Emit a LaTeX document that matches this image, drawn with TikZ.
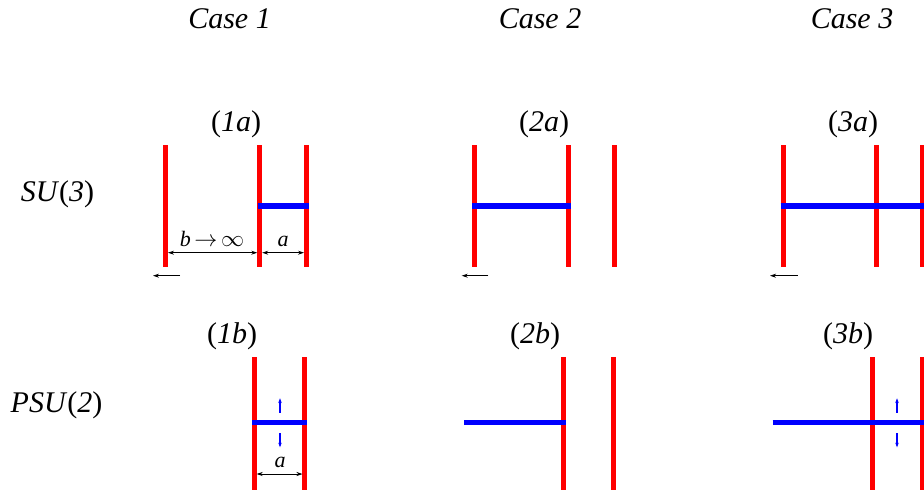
\documentclass[tikz,border=0pt]{standalone}
\usepackage{fontspec}
\setmainfont{Liberation Serif}
\usetikzlibrary{arrows.meta}
\newcommand\bigfnt{\fontsize{22.5}{27}\selectfont}
\newcommand\smallfnt{\fontsize{16.5}{20}\selectfont}
\tikzset{
  brane/.style={draw=red, line width=3.75pt},
  wire/.style={draw=blue, line width=4pt},
  dimarr/.style={draw=black, line width=0.6pt, {Stealth[length=4.5pt,width=3pt]}-{Stealth[length=4.5pt,width=3pt]}},
  movearr/.style={draw=black, line width=0.6pt, -{Stealth[length=4.5pt,width=3pt]}},
  bluearr/.style={draw=blue, line width=0.9pt, -{Stealth[length=3.5pt,width=2.6pt]}},
  title/.style={font=\bigfnt, anchor=base, inner sep=0pt},
  dimlbl/.style={font=\smallfnt, anchor=base, inner sep=0pt}
}
\begin{document}
\begin{tikzpicture}[x=0.75pt, y=-0.75pt]
\useasboundingbox (0,0) rectangle (924,490);
% titles
\node[title] (case1) at (229.5,28.3) {\textit{Case 1}};
\node[title] (case2) at (540,28.3) {\textit{Case 2}};
\node[title] (case3) at (852,28.3) {\textit{Case 3}};
\node[title] (su3) at (57.5,201.7) {\textit{SU}(\textit{3})};
\node[title] (psu2) at (56.5,412.7) {\textit{PSU}(\textit{2})};
\node[title] (l1a) at (236,131.7) {(\textit{1a})};
\node[title] (l2a) at (544,131.7) {(\textit{2a})};
\node[title] (l3a) at (853,131.7) {(\textit{3a})};
\node[title] (l1b) at (232,343) {(\textit{1b})};
\node[title] (l2b) at (535,343) {(\textit{2b})};
\node[title] (l3b) at (848,343) {(\textit{3b})};

% ---------- Case 1a ----------
\draw[brane] (165.7,145) -- (165.7,267);
\draw[brane] (259.5,145) -- (259.5,267);
\draw[brane] (306.3,145) -- (306.3,267);
\draw[wire] (257.5,206) -- (308.5,206);
\coordinate (d1l) at (168,252.7);
\coordinate (d1m) at (257.3,252.7);
\coordinate (d1n) at (262.2,252.7);
\coordinate (d1r) at (304,252.7);
\draw[dimarr] (d1l) -- (d1m);
\draw[dimarr] (d1n) -- (d1r);
\node[dimlbl] (binf) at (212,246.7) {\textit{b}\,$\rightarrow$\,$\infty$};
\node[dimlbl] (a1) at (283,246.7) {\textit{a}};
\coordinate (m1s) at (180,275.7);
\coordinate (m1e) at (153,275.7);
\draw[movearr] (m1s) -- (m1e);

% ---------- Case 1b ----------
\draw[brane] (254.3,357) -- (254.3,490);
\draw[brane] (304.7,357) -- (304.7,490);
\draw[wire] (252,422.7) -- (307,422.7);
\coordinate (u1s) at (280,412.7);
\coordinate (u1e) at (280,398.3);
\coordinate (w1s) at (280,433.3);
\coordinate (w1e) at (280,447.3);
\draw[bluearr] (u1s) -- (u1e);
\draw[bluearr] (w1s) -- (w1e);
\coordinate (d2l) at (256.7,474);
\coordinate (d2r) at (302.5,474);
\draw[dimarr] (d2l) -- (d2r);
\node[dimlbl] (a2) at (280,467) {\textit{a}};

% ---------- Case 2a ----------
\draw[brane] (474.3,145) -- (474.3,267);
\draw[brane] (568,145) -- (568,267);
\draw[brane] (614.7,145) -- (614.7,267);
\draw[wire] (472,206) -- (570.5,206);
\coordinate (m2s) at (488.3,275.7);
\coordinate (m2e) at (461.7,275.7);
\draw[movearr] (m2s) -- (m2e);

% ---------- Case 2b ----------
\draw[brane] (563,357) -- (563,490);
\draw[brane] (613.7,357) -- (613.7,490);
\draw[wire] (464.3,422.7) -- (565.5,422.7);

% ---------- Case 3a ----------
\draw[brane] (783,145) -- (783,267);
\draw[brane] (876.7,145) -- (876.7,267);
\draw[brane] (922.7,145) -- (922.7,267);
\draw[wire] (780.7,206) -- (924,206);
\coordinate (m3s) at (797.7,275.7);
\coordinate (m3e) at (770,275.7);
\draw[movearr] (m3s) -- (m3e);

% ---------- Case 3b ----------
\draw[brane] (872,357) -- (872,490);
\draw[brane] (922.7,357) -- (922.7,490);
\draw[wire] (772.7,422.7) -- (924,422.7);
\coordinate (u3s) at (897,412.7);
\coordinate (u3e) at (897,398.3);
\coordinate (w3s) at (897,433.3);
\coordinate (w3e) at (897,447.3);
\draw[bluearr] (u3s) -- (u3e);
\draw[bluearr] (w3s) -- (w3e);
\end{tikzpicture}
\end{document}
